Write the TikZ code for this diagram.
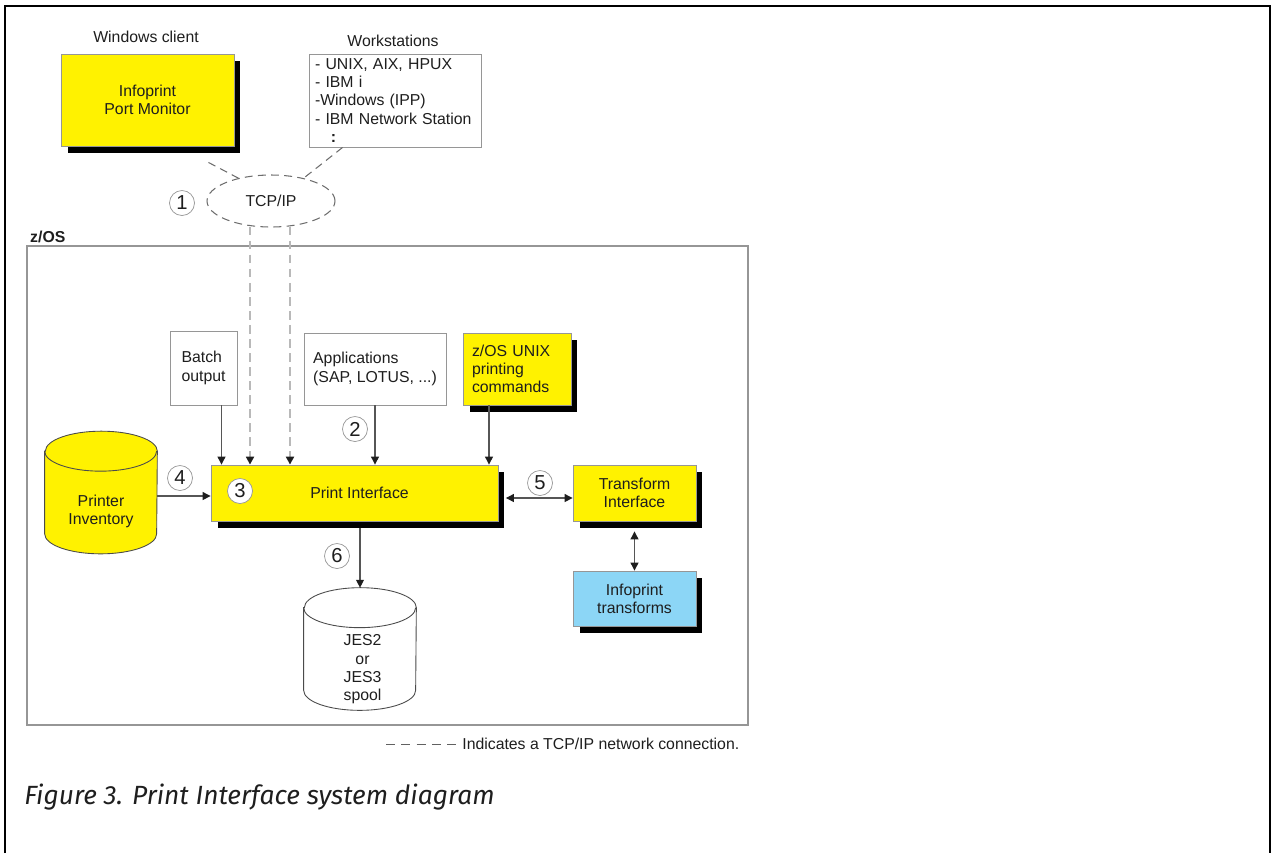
\documentclass[tikz,border=0pt]{standalone}
\usepackage{fontspec}
\setmainfont{Liberation Sans}
\newfontfamily\capfont{Fira Sans}
\usetikzlibrary{arrows.meta,shadows,shapes.geometric}
\definecolor{ibmyellow}{RGB}{255,242,0}
\definecolor{ibmblue}{RGB}{140,214,246}
\definecolor{edge}{RGB}{150,150,150}
\definecolor{ink}{RGB}{30,30,30}
\tikzset{
  lbl/.style={font=\fontsize{9}{10.4}\selectfont,text=ink,inner sep=1pt,align=center},
  box/.style={lbl,draw=edge,line width=0.5pt,inner sep=0pt},
  wbox/.style={box,fill=white},
  ybox/.style={box,fill=ibmyellow,drop shadow={shadow xshift=0.13cm,shadow yshift=-0.14cm,fill=black,opacity=1}},
  bbox/.style={ybox,fill=ibmblue},
  num/.style={circle,draw=edge,fill=white,inner sep=0pt,minimum size=0.5cm,font=\fontsize{11.5}{11.5}\selectfont,text=ink},
  arr/.style={draw=ink!75,line width=0.6pt,-{Triangle[width=4.5pt,length=4.5pt,color=ink]}},
  darr/.style={arr,{Triangle[width=4.5pt,length=4.5pt,color=ink]}-{Triangle[width=4.5pt,length=4.5pt,color=ink]}},
  net/.style={draw=ink!65,line width=0.6pt,dash pattern=on 4.5pt off 3pt},
  tcpline/.style={arr,draw=gray!55,line width=1.1pt,dash pattern=on 5pt off 3pt},
  cyl/.style={draw=ink!80,line width=0.5pt},
  cylbox/.style={inner sep=0pt,minimum width=2.24cm,minimum height=2.44cm}
}
\begin{document}
\begin{tikzpicture}[x=0.02cm,y=-0.02cm]
\useasboundingbox (0,0) rectangle (1273,853);
\draw[line width=1.4pt] (5,853) -- (5,6) -- (1270,6) -- (1270,853);

\node[lbl] (wcl) at (146,37) {Windows client};
\node[ybox,minimum width=3.46cm,minimum height=1.84cm] (pm) at (147.5,100) {Infoprint\\Port Monitor};
\node[lbl] (wsl) at (393,41) {Workstations};
\node[wbox,align=left,text width=3.2cm,minimum width=3.44cm,minimum height=1.86cm] (ws) at (395,100.5)
  {- UNIX, AIX, HPUX\\- IBM i\\-Windows (IPP)\\- IBM Network Station\\\hspace{1em}\textbf{:}};
\node[ellipse,net,lbl,minimum width=2.56cm,minimum height=1.04cm] (tcp) at (271,201) {TCP/IP};
\node[num] (c1) at (182,203) {1};
\draw[net] ([xshift=-0.52cm,yshift=-0.32cm]pm.south east) -- (tcp.145);
\draw[net] ([xshift=0.68cm]ws.south west) -- (tcp.35);

\node[draw=edge,line width=1.1pt,minimum width=14.42cm,minimum height=9.58cm] (zos) at (387.5,485.5) {};
\node[lbl,font=\fontsize{9}{10}\selectfont\bfseries,anchor=south west] (zosl) at ([xshift=0.04cm]zos.north west) {z/OS};

\node[wbox,align=left,minimum width=1.34cm,minimum height=1.48cm] (batch) at (203.5,368) {Batch\\output};
\node[wbox,align=left,minimum width=2.84cm,minimum height=1.44cm] (apps) at (375,369) {Applications\\(SAP, LOTUS, ...)};
\node[ybox,align=left,text width=1.8cm,minimum width=2.16cm,minimum height=1.44cm] (unix) at (517,369) {z/OS UNIX\\printing\\commands};
\node[ybox,minimum width=5.74cm,minimum height=1.12cm] (pi) at (354.5,493) {\hspace{0.2cm}Print Interface};
\node[ybox,minimum width=2.46cm,minimum height=1.12cm] (ti) at (634.5,493) {Transform\\Interface};
\node[bbox,minimum width=2.46cm,minimum height=1.1cm] (it) at (634.5,598.5) {Infoprint\\transforms};

\node[cylbox] (inv) at (101,492.5) {};
\filldraw[cyl,fill=ibmyellow] ([yshift=-0.4cm]inv.north west) -- ([yshift=0.4cm]inv.south west)
  arc[start angle=180,end angle=360,x radius=1.12cm,y radius=0.4cm] -- ([yshift=-0.4cm]inv.north east)
  arc[start angle=0,end angle=180,x radius=1.12cm,y radius=0.4cm] -- cycle;
\draw[cyl] ([yshift=-0.4cm]inv.north west) arc[start angle=180,end angle=360,x radius=1.12cm,y radius=0.4cm];
\node[lbl] (invt) at ([yshift=-0.38cm]inv.center) {Printer\\Inventory};

\node[cylbox] (jes) at (360,649) {};
\filldraw[cyl,fill=white] ([yshift=-0.4cm]jes.north west) -- ([yshift=0.4cm]jes.south west)
  arc[start angle=180,end angle=360,x radius=1.12cm,y radius=0.4cm] -- ([yshift=-0.4cm]jes.north east)
  arc[start angle=0,end angle=180,x radius=1.12cm,y radius=0.4cm] -- cycle;
\draw[cyl] ([yshift=-0.4cm]jes.north west) arc[start angle=180,end angle=360,x radius=1.12cm,y radius=0.4cm];
\node[lbl] (jest) at ([yshift=-0.41cm,xshift=0.05cm]jes.center) {JES2\\or\\JES3\\spool};

\draw[tcpline] ([xshift=-0.42cm,yshift=0.02cm]tcp.south) -- ([xshift=-0.42cm]tcp.south |- pi.north);
\draw[tcpline] ([xshift=0.38cm,yshift=0.02cm]tcp.south) -- ([xshift=0.38cm]tcp.south |- pi.north);
\draw[arr] ([xshift=0.36cm]batch.south) -- ([xshift=0.36cm]batch.south |- pi.north);
\draw[arr] (apps.south) -- (apps.south |- pi.north);
\draw[arr] ([xshift=-0.56cm]unix.south) -- ([xshift=-0.56cm]unix.south |- pi.north);
\draw[arr] ([yshift=-0.07cm]inv.east) -- ([yshift=-0.07cm]inv.east -| pi.west);
\draw[darr] ([xshift=0.15cm,yshift=-0.1cm]pi.east) -- ([yshift=-0.1cm]ti.west);
\draw[darr] ([yshift=-0.2cm]ti.south) -- (it.north);
\draw[arr] ([yshift=-0.14cm]jes.north |- pi.south) -- (jes.north);

\node[num] (c2) at (355,429) {2};
\node[num] (c3) at (240,491) {3};
\node[num] (c4) at (180,478) {4};
\node[num] (c5) at (540,483) {5};
\node[num] (c6) at (337,556) {6};

\node[lbl,font=\fontsize{9}{10}\selectfont,anchor=west,inner sep=0pt] (legend) at (462,744) {Indicates a TCP/IP network connection.};
\coordinate (legd) at (386,744);
\draw[draw=ink!70,line width=0.5pt,dash pattern=on 5.2pt off 3.5pt] (legd) -- ([xshift=-0.06cm]legend.west);

\node[anchor=base west,inner sep=0pt,text=ink,font=\capfont\itshape\fontsize{15}{17}\selectfont] (cap) at (24,804) {Figure 3. Print Interface system diagram};
\end{tikzpicture}
\end{document}
